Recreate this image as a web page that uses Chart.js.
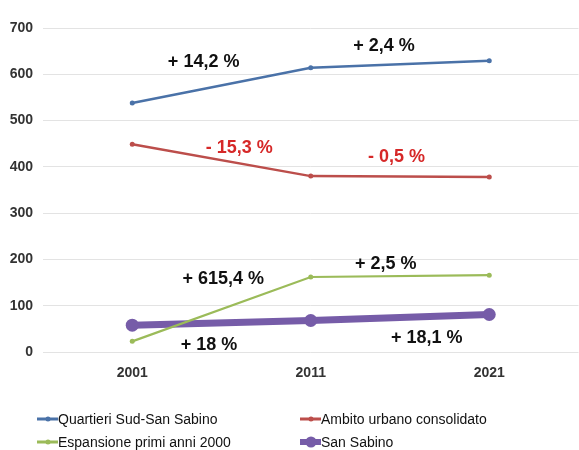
<!DOCTYPE html>
<html>
<head>
<meta charset="utf-8">
<script src="https://cdn.jsdelivr.net/npm/chart.js@4.4.1/dist/chart.umd.min.js"></script>
<style>
  html, body { margin: 0; padding: 0; background: #fff; overflow: hidden; }
  #wrap { position: relative; width: 585px; height: 450px; }
  #legenda {
    position: absolute; left: 37px; top: 410px;
    display: grid; grid-template-columns: 263px 220px; row-gap: 5px;
    font-family: "Liberation Sans", Arial, sans-serif; font-size: 14px; color: #111;
  }
  .voce { display: flex; align-items: center; height: 18px; white-space: nowrap; }
  .segno { position: relative; width: 21px; height: 18px; margin-right: 0px; }
  .segno .riga { position: absolute; left: 0; right: 0; top: 50%; transform: translateY(-50%); }
  .segno .punto { position: absolute; left: 50%; top: 50%; transform: translate(-50%, -50%); border-radius: 50%; }
</style>
</head>
<body>
<div id="wrap">
  <canvas id="graficoPop" width="585" height="450"></canvas>
  <div id="legenda"></div>
</div>
<script>
// Dati del grafico (popolazione per ambito)
const anni = ['2001', '2011', '2021'];
const quartieriSud = [538, 614, 629];
const ambitoUrbano = [449, 380, 378];
const espansione = [23, 162, 166];
const sanSabino = [58, 68, 81];
const tickY = [0, 100, 200, 300, 400, 500, 600, 700];

// Variazioni percentuali: testo, posizione (indice anno, valore), colore
const etichette = ['+ 14,2 %', '+ 2,4 %', '- 15,3 %', '- 0,5 %', '+ 615,4 %', '+ 2,5 %', '+ 18 %', '+ 18,1 %'];
const etichetteX = [0.4, 1.41, 0.6, 1.48, 0.51, 1.42, 0.43, 1.65];
const etichetteY = [626, 661, 440, 421, 158, 189, 15, 30];
const etichetteRosse = [false, false, true, true, false, false, false, false];

const serie = [
  { label: 'Quartieri Sud-San Sabino', data: quartieriSud, colore: 'rgb(74,114,168)', spessore: 2.5, raggio: 2.5 },
  { label: 'Ambito urbano consolidato', data: ambitoUrbano, colore: 'rgb(188,78,75)', spessore: 2.5, raggio: 2.5 },
  { label: 'Espansione primi anni 2000', data: espansione, colore: 'rgb(155,187,89)', spessore: 2.2, raggio: 2.5 },
  { label: 'San Sabino', data: sanSabino, colore: 'rgb(118,92,168)', spessore: 7, raggio: 6.5 }
];

// Plugin per scrivere le percentuali sul grafico
const percentuali = {
  id: 'percentuali',
  afterDatasetsDraw(chart) {
    const c = chart.ctx;
    const sx = chart.scales.x, sy = chart.scales.y;
    c.save();
    c.font = 'bold 18px "Liberation Sans", Arial, sans-serif';
    c.textAlign = 'center';
    c.textBaseline = 'middle';
    etichette.forEach((t, i) => {
      c.fillStyle = etichetteRosse[i] ? 'rgb(214,40,40)' : '#111';
      c.fillText(t, sx.getPixelForValue(etichetteX[i]), sy.getPixelForValue(etichetteY[i]));
    });
    c.restore();
  }
};

const ctx = document.getElementById('graficoPop').getContext('2d');
const grafico = new Chart(ctx, {
  type: 'line',
  data: {
    labels: anni,
    datasets: serie.map(s => ({
      label: s.label,
      data: s.data,
      borderColor: s.colore,
      backgroundColor: s.colore,
      borderWidth: s.spessore,
      pointRadius: s.raggio,
      pointBorderWidth: 0,
      tension: 0
    }))
  },
  options: {
    responsive: false,
    animation: false,
    layout: { padding: { top: 28, left: 0, right: 0, bottom: 0 } },
    plugins: {
      legend: { display: false },
      tooltip: { enabled: false }
    },
    scales: {
      x: {
        offset: true,
        grid: { display: false, drawTicks: false },
        border: { display: false },
        ticks: { color: '#333', padding: 13, font: { family: '"Liberation Sans", Arial, sans-serif', size: 14, weight: 'bold' } },
        afterFit: s => { s.height = 98; }
      },
      y: {
        min: 0,
        max: 700,
        afterBuildTicks: s => { s.ticks = tickY.map(v => ({ value: v })); },
        grid: { color: '#e3e3e3', lineWidth: 1, drawTicks: false },
        border: { display: false },
        ticks: { color: '#333', padding: 10, font: { family: '"Liberation Sans", Arial, sans-serif', size: 14, weight: 'bold' } },
        afterFit: s => { s.width = 43; }
      }
    }
  },
  plugins: [percentuali]
});

// Legenda HTML su due colonne, costruita dai dataset
const legenda = document.getElementById('legenda');
serie.forEach(s => {
  const voce = document.createElement('div');
  voce.className = 'voce';
  const grosso = s.spessore > 5;
  voce.innerHTML =
    '<span class="segno"><span class="riga" style="height:' + (grosso ? 6 : 3) + 'px;background:' + s.colore + '"></span>' +
    '<span class="punto" style="width:' + (grosso ? 11 : 5) + 'px;height:' + (grosso ? 11 : 5) + 'px;background:' + s.colore + '"></span></span>' +
    '<span>' + s.label + '</span>';
  legenda.appendChild(voce);
});
</script>
</body>
</html>
